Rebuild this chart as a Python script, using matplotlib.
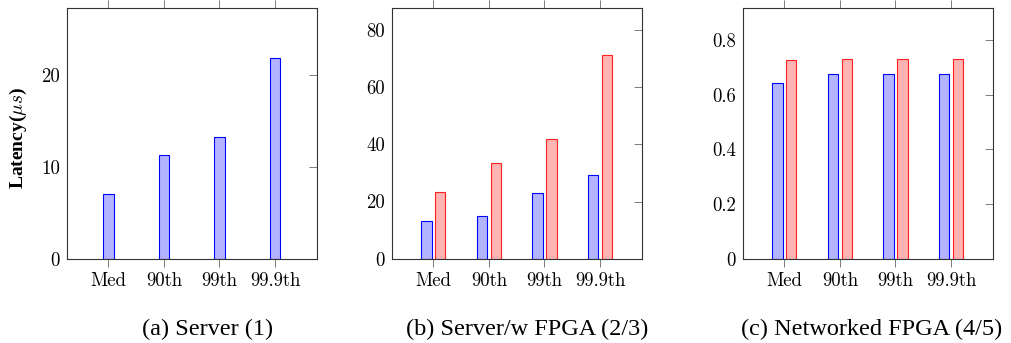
import matplotlib
matplotlib.use("Agg")
import matplotlib.pyplot as plt
import numpy as np

plt.rcParams['font.family'] = ['Liberation Serif', 'DejaVu Serif']
plt.rcParams['mathtext.fontset'] = 'cm'

categories = ["Med", "90th", "99th", "99.9th"]

# (a) Server (1)
server = [7.0, 11.3, 13.2, 21.8]
# (b) Server/w FPGA (2/3)
fpga_blue = [13.2, 14.8, 22.9, 29.2]
fpga_red = [23.2, 33.6, 42.0, 71.4]
# (c) Networked FPGA (4/5)
net_blue = [0.642, 0.675, 0.675, 0.675]
net_red = [0.727, 0.732, 0.732, 0.732]

captions = ["(a) Server (1)", "(b) Server/w FPGA (2/3)", "(c) Networked FPGA (4/5)"]
caption_x = [208, 527, 872]

BLUE_FILL, BLUE_EDGE = "#b3b3ff", "#0000ff"
RED_FILL, RED_EDGE = "#ffb3b3", "#ff2020"
W = 0.185
OFF = 0.124
TICKFONT = 'cmr10'

fig = plt.figure(figsize=(10.11, 3.43), dpi=100)
# axes boxes in pixel coords: left, right
boxes = [(66.7, 316.7), (391.7, 641.7), (742.7, 992.7)]
top_px, bot_px = 8.3, 258.7
axs = []
for l, r in boxes:
    ax = fig.add_axes([l / 1011, 1 - bot_px / 343, (r - l) / 1011, (bot_px - top_px) / 343])
    axs.append(ax)

x = np.arange(len(categories))

axs[0].bar(x, server, W, color=BLUE_FILL, edgecolor=BLUE_EDGE, linewidth=0.8, zorder=2)
axs[0].set_ylim(0, 27.2)
axs[0].set_yticks([0, 10, 20])
axs[0].set_yticklabels(["0", "10", "20"])

axs[1].bar(x - OFF, fpga_blue, W, color=BLUE_FILL, edgecolor=BLUE_EDGE, linewidth=0.8, zorder=2)
axs[1].bar(x + OFF, fpga_red, W, color=RED_FILL, edgecolor=RED_EDGE, linewidth=0.8, zorder=2)
axs[1].set_ylim(0, 87.6)
axs[1].set_yticks([0, 20, 40, 60, 80])
axs[1].set_yticklabels(["0", "20", "40", "60", "80"])

axs[2].bar(x - OFF, net_blue, W, color=BLUE_FILL, edgecolor=BLUE_EDGE, linewidth=0.8, zorder=2)
axs[2].bar(x + OFF, net_red, W, color=RED_FILL, edgecolor=RED_EDGE, linewidth=0.8, zorder=2)
axs[2].set_ylim(0, 0.916)
axs[2].set_yticks([0, 0.2, 0.4, 0.6, 0.8])
axs[2].set_yticklabels(["0", "0.2", "0.4", "0.6", "0.8"])

for ax in axs:
    ax.set_xlim(-0.75, 3.75)
    ax.set_xticks(x)
    ax.set_xticklabels(categories)
    for s in ax.spines.values():
        s.set_color("#333333")
        s.set_linewidth(0.8)
    ax.tick_params(axis='x', direction='out', top=True, bottom=True, length=5.8,
                   width=0.6, color="#666666", labelsize=13.5, pad=4)
    ax.tick_params(axis='y', direction='in', left=False, right=True, length=5.8,
                   width=0.6, color="#666666", labelsize=13.5, pad=5)
    for lab in ax.get_xticklabels() + ax.get_yticklabels():
        lab.set_fontfamily(TICKFONT)

axs[0].set_ylabel(r"Latency($\mu s$)", fontsize=14, fontweight='bold')
axs[0].yaxis.set_label_coords(-37.2 / 250, (258.7 - 137.5) / 250.4)

for cx, cap in zip(caption_x, captions):
    fig.text(cx / 1011, 1 - 335 / 343, cap, ha='center', va='baseline', fontsize=17.5)

fig.savefig("out.png", dpi=100)
